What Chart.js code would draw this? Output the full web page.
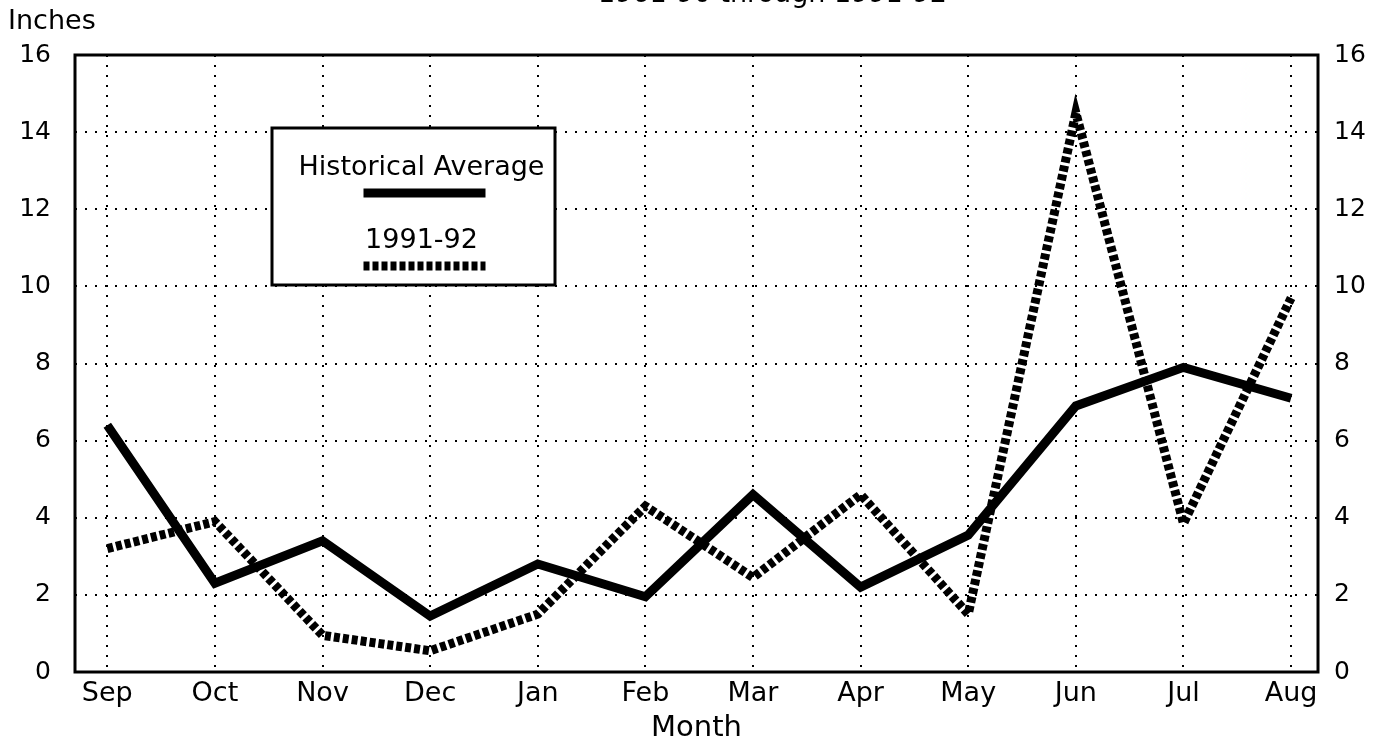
<!DOCTYPE html>
<html>
<head>
<meta charset="utf-8">
<script src="https://cdn.jsdelivr.net/npm/chart.js@4.4.1/dist/chart.umd.min.js"></script>
<style>
  html, body { margin: 0; background: #fff; }
  #wrap { position: relative; width: 1382px; height: 742px; overflow: hidden; }
  .lbl { position: absolute; font-family: "DejaVu Sans", sans-serif; color: #000; white-space: nowrap; }
</style>
</head>
<body>
<div id="wrap">
  <div class="lbl" style="left:598px;top:-21px;font-size:27px;line-height:28px;">1961-90 through 1991-92</div>
  <div class="lbl" style="left:8px;top:4px;font-size:27px;">Inches</div>
  <canvas id="chart" width="1382" height="742"></canvas>
</div>
<script>
// 月份与两条降水序列（英寸）
const months = ['Sep', 'Oct', 'Nov', 'Dec', 'Jan', 'Feb', 'Mar', 'Apr', 'May', 'Jun', 'Jul', 'Aug'];
const historicalAvg = [6.4, 2.3, 3.4, 1.45, 2.8, 1.95, 4.6, 2.2, 3.55, 6.9, 7.9, 7.1];
const season9192 = [3.2, 3.9, 0.95, 0.55, 1.5, 4.3, 2.45, 4.6, 1.5, 14.5, 3.85, 9.7];
const yTicks = [0, 2, 4, 6, 8, 10, 12, 14, 16];

const WORD_FONT = { family: 'DejaVu Sans', size: 27 };
const NUM_FONT = { family: 'DejaVu Sans', size: 25 };
const DOTS = [2, 8];

// 图框 + 图内图例
const framePlugin = {
  id: 'frame',
  afterDraw(chart) {
    const { ctx, chartArea: a } = chart;
    ctx.save();
    ctx.strokeStyle = '#000';
    ctx.lineWidth = 3;
    ctx.setLineDash([]);
    ctx.strokeRect(a.left, a.top, a.right - a.left, a.bottom - a.top);

    // legend box
    const bx = 272, by = 128, bw = 283, bh = 157;
    ctx.fillStyle = '#fff';
    ctx.fillRect(bx, by, bw, bh);
    ctx.strokeRect(bx, by, bw, bh);
    ctx.fillStyle = '#000';
    ctx.font = '27px "DejaVu Sans"';
    ctx.textAlign = 'center';
    ctx.textBaseline = 'middle';
    const cx = bx + bw / 2;
    chart.data.datasets.forEach((ds, i) => {
      const ty = by + 40 + i * 73;
      ctx.fillText(ds.label, cx + 8, ty);
      ctx.lineWidth = ds.borderWidth;
      ctx.setLineDash(ds.borderDash || []);
      ctx.beginPath();
      ctx.moveTo(cx - 50, ty + 25);
      ctx.lineTo(cx + 72, ty + 25);
      ctx.stroke();
    });
    ctx.restore();
  },
};

const toPoints = (arr) => arr.map((v, i) => ({ x: i, y: v }));

new Chart(document.getElementById('chart'), {
  type: 'line',
  data: {
    datasets: [
      {
        label: 'Historical Average',
        data: toPoints(historicalAvg),
        borderColor: '#000',
        borderWidth: 9,
        pointRadius: 0,
        tension: 0,
      },
      {
        label: '1991-92',
        data: toPoints(season9192),
        borderColor: '#000',
        borderWidth: 9,
        borderDash: [6, 3],
        pointRadius: 0,
        tension: 0,
      },
    ],
  },
  options: {
    responsive: false,
    animation: false,
    layout: { padding: { top: 55, left: 0, right: 0, bottom: 0 } },
    plugins: { legend: { display: false }, tooltip: { enabled: false } },
    scales: {
      x: {
        type: 'linear',
        min: -0.3,
        max: 11.25,
        afterBuildTicks: (s) => { s.ticks = months.map((m, i) => ({ value: i })); },
        afterFit: (s) => { s.height = 70; },
        border: { display: false, dash: DOTS },
        grid: { color: '#000', lineWidth: 2, drawTicks: false },
        ticks: { color: '#000', font: WORD_FONT, padding: 6, callback: (v) => months[v] },
        title: { display: true, text: 'Month', color: '#000', font: { family: 'DejaVu Sans', size: 29 }, padding: { top: 0, bottom: -4 } },
      },
      y: {
        min: 0,
        max: 16,
        afterBuildTicks: (s) => { s.ticks = yTicks.map((v) => ({ value: v })); },
        afterFit: (s) => { s.width = 75; },
        border: { display: false, dash: DOTS },
        grid: { color: '#000', lineWidth: 2, drawTicks: false },
        ticks: { color: '#000', font: NUM_FONT, padding: 24 },
      },
      y2: {
        position: 'right',
        min: 0,
        max: 16,
        afterBuildTicks: (s) => { s.ticks = yTicks.map((v) => ({ value: v })); },
        afterFit: (s) => { s.width = 64; },
        border: { display: false },
        grid: { display: false, drawTicks: false },
        ticks: { color: '#000', font: NUM_FONT, padding: 16 },
      },
    },
  },
  plugins: [framePlugin],
});
</script>
</body>
</html>
